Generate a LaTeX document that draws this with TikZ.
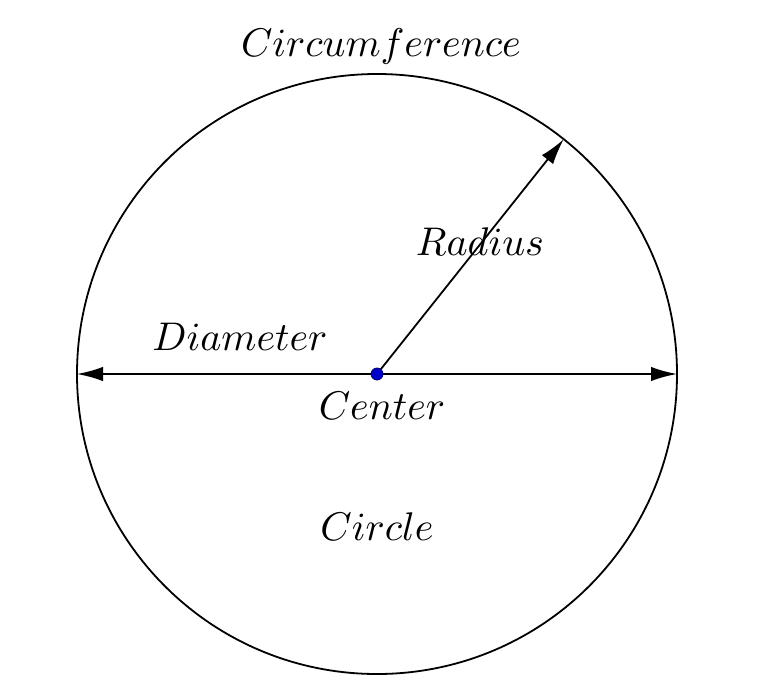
\documentclass[tikz,border=0pt]{standalone}
\usetikzlibrary{arrows.meta,calc}
\begin{document}
\begin{tikzpicture}[x=0.25pt,y=-0.25pt,
  lbl/.style={font=\fontsize{10.4}{12}\selectfont, inner sep=0pt},
  arr/.style={line width=0.45pt, -{Latex[length=6.5pt,width=3.6pt]}},
  dbl/.style={line width=0.45pt, {Latex[length=6.5pt,width=3.6pt]}-{Latex[length=6.5pt,width=3.6pt]}}]
\useasboundingbox (0,0) rectangle (770,696);
\coordinate (c) at (377,374);
\draw[line width=0.45pt] (c) circle[radius=300];
\coordinate (l) at (77,374);
\coordinate (r) at (677,374);
\coordinate (rt) at ($(c)+(-51.5:300)$);
\draw[dbl] (l) -- (r);
\draw[arr] (c) -- (rt);
\node[circle, fill=blue!80!black, draw=blue!40!black, line width=0.2pt, minimum size=3pt, inner sep=0pt] (dot) at (c) {};
\node[lbl] (circum) at (381,46) {$Circumference$};
\node[lbl] (radius) at (480,242) {$Radius$};
\node[lbl] (diam) at (240,337) {$Diameter$};
\node[lbl] (center) at (382,406) {$Center$};
\node[lbl] (circle) at (377,527) {$Circle$};
\end{tikzpicture}
\end{document}
